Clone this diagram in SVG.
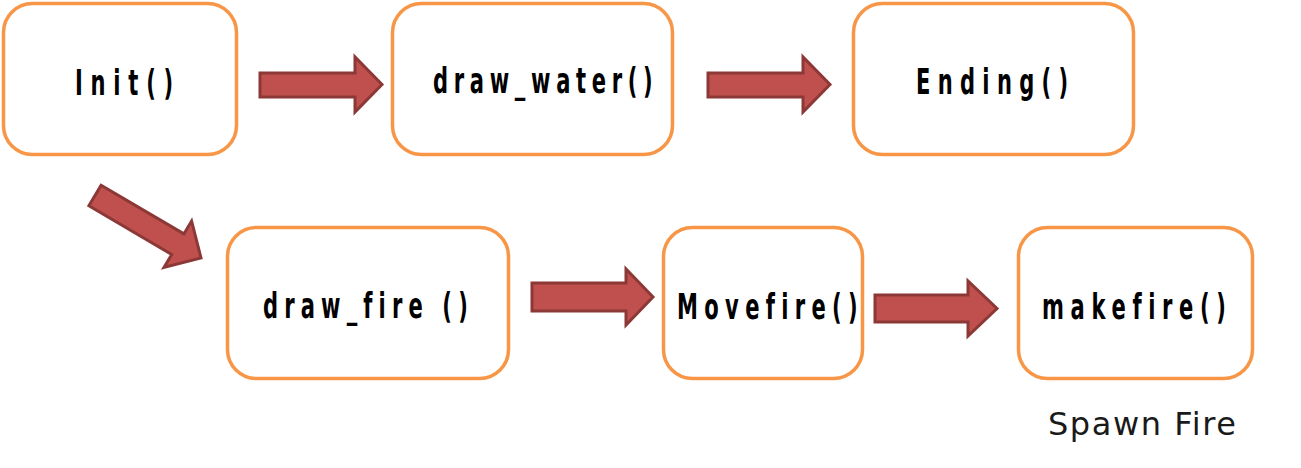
<svg xmlns="http://www.w3.org/2000/svg" width="1301" height="468" viewBox="0 0 1301 468">
<style>
.box{fill:#ffffff;stroke:#F79646;stroke-width:3.5}
.lbl{font-family:"DejaVu Sans Condensed","DejaVu Sans",sans-serif;font-weight:bold;font-size:36px;fill:#000000;font-variant-ligatures:none}
.arr{fill:#C0504D;stroke:#8C3836;stroke-width:3;stroke-linejoin:miter}
.note{font-family:"DejaVu Sans","Liberation Sans",sans-serif;font-size:32px;fill:#1a1a1a}
</style>
<rect width="1301" height="468" fill="#ffffff"/>
<g id="connectors">
<polygon class="arr" points="260,73 355,73 355,57 382,84.5 355,112 355,97 260,97"/>
<polygon class="arr" points="708,73 803,73 803,57 830,84.5 803,112 803,97 708,97"/>
<polygon class="arr" points="101.1,185.2 183.9,233.9 191.6,221 201,258 164,267.4 171.7,254.5 88.9,205.8"/>
<polygon class="arr" points="532,283 626,283 626,269 653,297 626,325 626,311 532,311"/>
<polygon class="arr" points="875,295 968,295 968,281 997,308.5 968,336 968,322 875,322"/>
</g>
<g id="init">
<rect class="box" x="3.5" y="3.5" width="233" height="151" rx="29"/>
<text class="lbl" transform="translate(75,95) scale(0.65,1)" textLength="151" lengthAdjust="spacing">Init()</text>
</g>
<g id="draw_water">
<rect class="box" x="392.5" y="3.5" width="280" height="151" rx="29"/>
<text class="lbl" transform="translate(433,93) scale(0.65,1)" textLength="338" lengthAdjust="spacing">draw_water()</text>
</g>
<g id="ending">
<rect class="box" x="853.5" y="3.5" width="280" height="151" rx="29"/>
<text class="lbl" transform="translate(916,94) scale(0.65,1)" textLength="234" lengthAdjust="spacing">Ending()</text>
</g>
<g id="draw_fire">
<rect class="box" x="227.5" y="227.5" width="281" height="151" rx="29"/>
<text class="lbl" transform="translate(263,318) scale(0.65,1)" textLength="315" lengthAdjust="spacing">draw_fire ()</text>
</g>
<g id="movefire">
<rect class="box" x="663.5" y="227.5" width="199" height="151" rx="29"/>
<text class="lbl" transform="translate(677,319) scale(0.65,1)" textLength="278" lengthAdjust="spacing">Movefire()</text>
</g>
<g id="makefire">
<rect class="box" x="1018.5" y="227.5" width="234" height="151" rx="29"/>
<text class="lbl" transform="translate(1042,319) scale(0.65,1)" textLength="283" lengthAdjust="spacing">makefire()</text>
</g>
<text class="note" x="1048" y="435" textLength="188" lengthAdjust="spacing">Spawn Fire</text>
</svg>
